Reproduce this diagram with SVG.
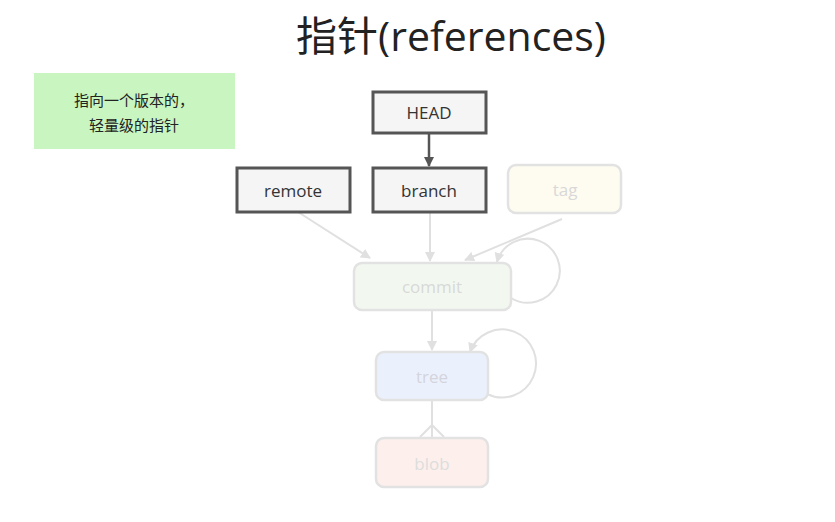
<svg xmlns="http://www.w3.org/2000/svg" width="835" height="522" viewBox="0 0 835 522">
<style>
.t{font-family:"Open Sans","Noto Sans CJK SC",sans-serif;text-anchor:middle}
.dk{fill:#f5f5f5;stroke:#555;stroke-width:3}
.fd{stroke:#e2e2e2;stroke-width:2.5}
.ln{stroke:#e0e0e0;stroke-width:2;fill:none}
</style>
<defs>
<marker id="a" viewBox="0 0 10 10" refX="9" refY="5" markerWidth="5" markerHeight="5" orient="auto"><path d="M0,0L10,5L0,10z" fill="#e0e0e0"/></marker>
<marker id="ad" viewBox="0 0 10 10" refX="9" refY="5" markerWidth="4" markerHeight="4" orient="auto"><path d="M0,0L10,5L0,10z" fill="#555"/></marker>
</defs>
<rect width="835" height="522" fill="#fff"/>
<text class="t" x="451" y="51" font-size="41" fill="#222">指针(references)</text>
<g id="note"><rect x="34" y="73" width="201" height="76" fill="#c8f5c0"/>
<text class="t" x="134" y="106" font-size="15" fill="#222">指向一个版本的，</text>
<text class="t" x="134" y="131" font-size="15" fill="#222">轻量级的指针</text></g>
<g id="connectors">
<line x1="429" y1="133" x2="429" y2="166" stroke="#555" stroke-width="2.5" marker-end="url(#ad)"/>
<line x1="298" y1="212" x2="370" y2="258" class="ln" marker-end="url(#a)"/>
<line x1="430" y1="213" x2="430" y2="261" class="ln" marker-end="url(#a)"/>
<line x1="562" y1="219" x2="465" y2="260" class="ln" marker-end="url(#a)"/>
<path d="M511,298 A32,32 0 1 0 497,262" class="ln" marker-end="url(#a)"/>
<line x1="432" y1="310" x2="432" y2="350" class="ln" marker-end="url(#a)"/>
<path d="M487,394 A34,34 0 1 0 470,352" class="ln" marker-end="url(#a)"/>
<path d="M432,400 V437 M432,425 L420,437 M432,425 L444,437" class="ln"/>
</g>
<g id="HEAD"><rect x="373" y="92" width="113" height="41" class="dk"/><text class="t" x="429" y="119" font-size="17" fill="#333">HEAD</text></g>
<g id="remote"><rect x="237" y="168" width="113" height="44" class="dk"/><text class="t" x="293" y="197" font-size="17" fill="#333">remote</text></g>
<g id="branch"><rect x="373" y="168" width="113" height="44" class="dk"/><text class="t" x="429" y="197" font-size="17" fill="#333">branch</text></g>
<g id="tag"><rect x="508" y="165" width="113" height="48" rx="8" fill="#fefcf0" class="fd"/><text class="t" x="565" y="196" font-size="17" fill="#d8d8d8">tag</text></g>
<g id="commit"><rect x="354" y="263" width="157" height="47" rx="8" fill="#f2f8f0" class="fd"/><text class="t" x="432" y="293" font-size="17" fill="#d8d8d8">commit</text></g>
<g id="tree"><rect x="376" y="352" width="112" height="48" rx="8" fill="#ebf1fc" class="fd"/><text class="t" x="432" y="383" font-size="17" fill="#d4d4dc">tree</text></g>
<g id="blob"><rect x="376" y="438" width="112" height="49" rx="8" fill="#fcefec" class="fd"/><text class="t" x="432" y="470" font-size="17" fill="#ddd">blob</text></g>
</svg>
